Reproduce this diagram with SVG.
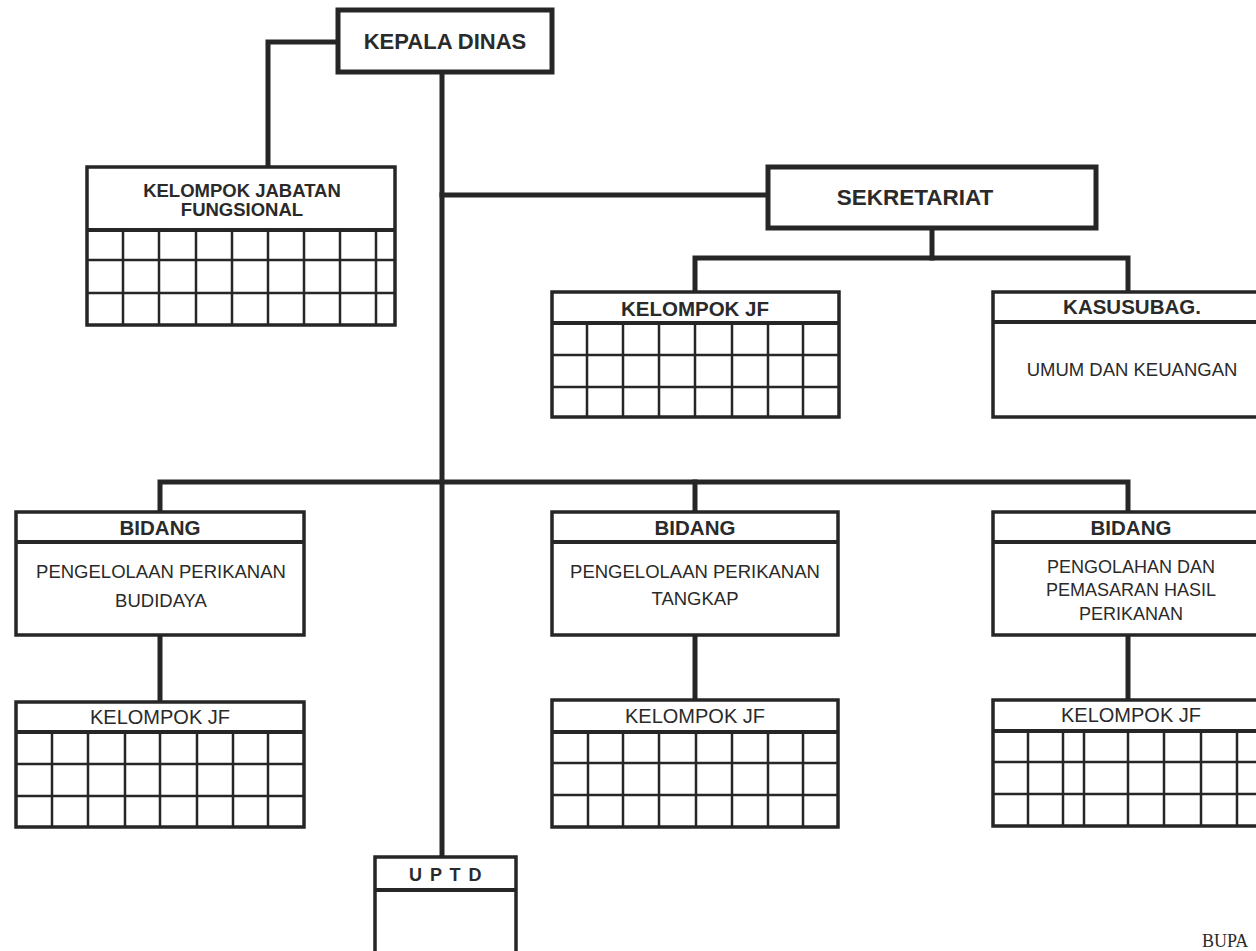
<svg xmlns="http://www.w3.org/2000/svg" width="1256" height="951" viewBox="0 0 1256 951">
<style>
.bg{fill:#fff}
.conn{stroke:#262626;stroke-width:5;fill:none;stroke-linecap:square}
.box{fill:#fff;stroke:#262626;stroke-width:3.5}
.bigbox{fill:#fff;stroke:#262626;stroke-width:5}
.hl{stroke:#262626;stroke-width:4;fill:none}
.grid{stroke:#262626;stroke-width:2.5;fill:none}
text{font-family:"Liberation Sans",Arial,sans-serif;fill:#2a2a2a;text-anchor:middle}
.b{font-weight:bold}
.ser{font-family:"Liberation Serif","Times New Roman",serif;text-anchor:start}
</style>
<rect class="bg" x="0" y="0" width="1256" height="951"/>

<g id="connectors">
  <polyline class="conn" points="338,42 268,42 268,167"/>
  <line class="conn" x1="442" y1="72" x2="442" y2="857"/>
  <line class="conn" x1="442" y1="195" x2="768" y2="195"/>
  <line class="conn" x1="932" y1="228" x2="932" y2="258"/>
  <polyline class="conn" points="695,292 695,258 1128,258 1128,292"/>
  <polyline class="conn" points="160,512 160,482 1128,482 1128,512"/>
  <line class="conn" x1="695" y1="482" x2="695" y2="512"/>
  <line class="conn" x1="160" y1="635" x2="160" y2="702"/>
  <line class="conn" x1="695" y1="635" x2="695" y2="700"/>
  <line class="conn" x1="1128" y1="635" x2="1128" y2="700"/>
</g>

<g id="kepala-dinas">
  <rect class="bigbox" x="338" y="10" width="214" height="62"/>
  <text class="b" x="445" y="49" font-size="22">KEPALA DINAS</text>
</g>

<g id="kelompok-jabatan-fungsional">
  <rect class="box" x="87" y="167" width="308" height="158"/>
  <line class="hl" x1="87" y1="230" x2="395" y2="230"/>
  <text class="b" x="242" y="197" font-size="18.5">KELOMPOK JABATAN</text>
  <text class="b" x="242" y="216" font-size="18.5">FUNGSIONAL</text>
  <path class="grid" d="M87,260H395M87,293H395M123,230V325M159,230V325M196,230V325M232,230V325M268,230V325M304,230V325M340,230V325M376,230V325"/>
</g>

<g id="sekretariat">
  <rect class="bigbox" x="768" y="167" width="328" height="61"/>
  <text class="b" x="915" y="205" font-size="22.5">SEKRETARIAT</text>
</g>

<g id="kelompok-jf-sekretariat">
  <rect class="box" x="552" y="292" width="287" height="125"/>
  <line class="hl" x1="552" y1="323" x2="839" y2="323"/>
  <text class="b" x="695" y="316" font-size="20.5">KELOMPOK JF</text>
  <path class="grid" d="M552,355H839M552,387H839M587,323V417M623,323V417M659,323V417M695,323V417M732,323V417M768,323V417M803,323V417"/>
</g>

<g id="kasusubag">
  <rect class="box" x="993" y="292" width="275" height="125"/>
  <line class="hl" x1="993" y1="322" x2="1268" y2="322"/>
  <text class="b" x="1132" y="314" font-size="20.5">KASUSUBAG.</text>
  <text x="1132" y="376" font-size="18.5">UMUM DAN KEUANGAN</text>
</g>

<g id="bidang-budidaya">
  <rect class="box" x="16" y="512" width="288" height="123"/>
  <line class="hl" x1="16" y1="542" x2="304" y2="542"/>
  <text class="b" x="160" y="535" font-size="20.5">BIDANG</text>
  <text x="161" y="578" font-size="18.5">PENGELOLAAN PERIKANAN</text>
  <text x="161" y="607" font-size="18.5">BUDIDAYA</text>
</g>

<g id="bidang-tangkap">
  <rect class="box" x="552" y="512" width="286" height="123"/>
  <line class="hl" x1="552" y1="542" x2="838" y2="542"/>
  <text class="b" x="695" y="535" font-size="20.5">BIDANG</text>
  <text x="695" y="578" font-size="18.5">PENGELOLAAN PERIKANAN</text>
  <text x="695" y="605" font-size="18.5">TANGKAP</text>
</g>

<g id="bidang-pengolahan">
  <rect class="box" x="993" y="512" width="275" height="123"/>
  <line class="hl" x1="993" y1="542" x2="1268" y2="542"/>
  <text class="b" x="1131" y="535" font-size="20.5">BIDANG</text>
  <text x="1131" y="573" font-size="18">PENGOLAHAN DAN</text>
  <text x="1131" y="596" font-size="18">PEMASARAN HASIL</text>
  <text x="1131" y="620" font-size="18">PERIKANAN</text>
</g>

<g id="kelompok-jf-budidaya">
  <rect class="box" x="16" y="702" width="288" height="125"/>
  <line class="hl" x1="16" y1="732" x2="304" y2="732"/>
  <text x="160" y="724" font-size="20">KELOMPOK JF</text>
  <path class="grid" d="M16,764H304M16,796H304M52,732V827M88,732V827M125,732V827M160,732V827M197,732V827M233,732V827M268,732V827"/>
</g>

<g id="kelompok-jf-tangkap">
  <rect class="box" x="552" y="700" width="286" height="127"/>
  <line class="hl" x1="552" y1="732" x2="838" y2="732"/>
  <text x="695" y="723" font-size="20">KELOMPOK JF</text>
  <path class="grid" d="M552,763H838M552,795H838M588,732V827M623,732V827M659,732V827M696,732V827M732,732V827M768,732V827M803,732V827"/>
</g>

<g id="kelompok-jf-pengolahan">
  <rect class="box" x="993" y="700" width="275" height="126"/>
  <line class="hl" x1="993" y1="731" x2="1268" y2="731"/>
  <text x="1131" y="722" font-size="20">KELOMPOK JF</text>
  <path class="grid" d="M993,762H1268M993,794H1268M1028,731V826M1063,731V826M1084,731V826M1128,731V826M1164,731V826M1201,731V826M1237,731V826"/>
</g>

<g id="uptd">
  <path class="box" d="M375,960V857H516V960"/>
  <line class="hl" x1="375" y1="890" x2="516" y2="890"/>
  <text class="b" x="446" y="881" font-size="18" letter-spacing="1.5">U P T D</text>
</g>

<g id="bupati-label">
  <text class="ser" x="1202" y="947" font-size="18">BUPA</text>
</g>
</svg>
